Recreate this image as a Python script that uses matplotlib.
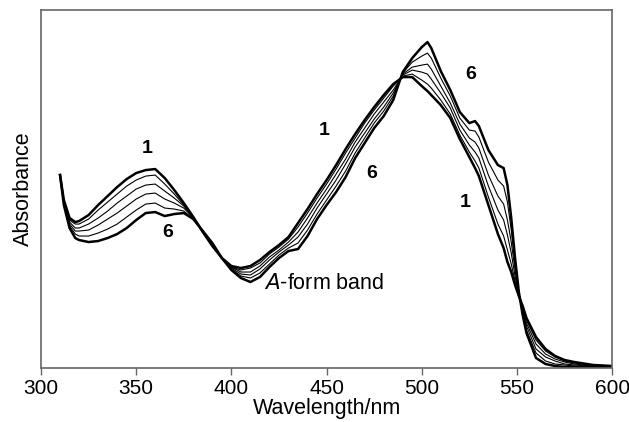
import matplotlib
matplotlib.use("Agg")
import matplotlib.pyplot as plt

plt.rcParams['font.family'] = ['Liberation Sans', 'DejaVu Sans']

wavelength = [310, 312, 315, 318, 320, 325, 330, 335, 340, 345, 350, 355, 360, 365, 370,
              375, 380, 385, 390, 395, 400, 405, 410, 415, 420, 425, 430, 435, 440, 445,
              450, 455, 460, 465, 470, 475, 480, 485, 490, 495, 500, 503, 505, 510, 515,
              520, 525, 528, 530, 535, 540, 543, 545, 547, 549, 551, 553, 555, 560, 565,
              570, 575, 580, 590, 600]

curve1 = [193, 168, 150, 146, 147, 153, 163, 172, 181, 189, 195, 198, 199, 190, 178,
          165, 151, 136, 122, 110, 102, 100, 102, 108, 116, 123, 131, 145, 159, 174,
          188, 203, 219, 234, 248, 261, 273, 284, 291, 291, 282, 277, 273, 263, 250,
          229, 211, 200, 192, 163, 134, 120, 106, 96, 83, 72, 62, 50, 31, 19,
          12, 8, 6, 3, 2]
curve2 = [193, 167, 148, 144, 144, 149, 158, 166, 174, 182, 188, 192, 193, 184, 174,
          163, 151, 136, 122, 110, 101, 98, 100, 105, 114, 121, 129, 141, 155, 170,
          184, 199, 215, 230, 245, 258, 270, 282, 292, 294, 288, 284, 280, 268, 254,
          233, 216, 207, 200, 171, 144, 132, 118, 104, 87, 73, 61, 48, 28, 17,
          11, 7, 5, 3, 2]
curve3 = [193, 166, 146, 140, 140, 144, 150, 157, 165, 172, 179, 183, 184, 177, 170,
          162, 150, 136, 123, 110, 101, 96, 96, 102, 111, 118, 126, 136, 150, 165,
          179, 194, 209, 226, 240, 254, 266, 278, 293, 298, 296, 294, 289, 275, 260,
          238, 223, 216, 210, 182, 158, 148, 133, 115, 92, 73, 59, 45, 24, 14,
          9, 6, 4, 2, 2]
curve4 = [193, 165, 144, 137, 137, 138, 143, 149, 155, 162, 169, 174, 175, 169, 165,
          160, 150, 137, 124, 110, 100, 94, 93, 99, 108, 116, 123, 131, 144, 160,
          174, 188, 204, 221, 235, 249, 261, 275, 294, 301, 303, 304, 299, 282, 265,
          244, 230, 226, 220, 193, 172, 164, 148, 126, 98, 74, 57, 42, 19, 11,
          7, 4, 3, 2, 1]
curve5 = [193, 164, 142, 134, 132, 132, 135, 139, 144, 151, 158, 164, 165, 160, 159,
          157, 149, 137, 124, 110, 99, 92, 90, 95, 104, 113, 120, 125, 138, 154,
          168, 182, 197, 215, 230, 245, 257, 272, 295, 306, 312, 315, 310, 290, 272,
          250, 238, 237, 231, 206, 188, 182, 166, 138, 104, 75, 55, 38, 15, 7,
          4, 3, 2, 1, 1]
curve6 = [193, 163, 140, 130, 128, 126, 127, 130, 134, 140, 148, 155, 156, 152, 154,
          155, 149, 137, 125, 110, 98, 90, 86, 91, 101, 110, 117, 119, 132, 149,
          163, 176, 191, 210, 225, 240, 252, 268, 296, 310, 321, 326, 320, 297, 278,
          256, 245, 247, 242, 218, 203, 200, 183, 150, 110, 76, 53, 35, 10, 4,
          2, 1, 1, 1, 1]

x_ticks = [300, 350, 400, 450, 500, 550, 600]

fig = plt.figure(figsize=(6.29, 4.22), dpi=100)
ax = fig.add_axes([0.0652, 0.128, 0.908, 0.848])

thin = [curve2, curve3, curve4, curve5]
for c in thin:
    ax.plot(wavelength, c, color='black', lw=0.8)
for c in [curve1, curve6]:
    ax.plot(wavelength, c, color='black', lw=1.8)

ax.set_xlim(300, 600)
ax.set_ylim(0, 358)
ax.set_xticks(x_ticks)
ax.set_yticks([])
ax.tick_params(axis='x', direction='out', length=5, width=1, color='#666666',
               labelsize=15, pad=3)
for s in ax.spines.values():
    s.set_color('#666666')
    s.set_linewidth(1.2)

ax.set_xlabel('Wavelength/nm', fontsize=15.5, labelpad=0)
ax.set_ylabel('Absorbance', fontsize=15.5, labelpad=5)

lab = dict(fontsize=14, fontweight='bold', ha='center', va='center')
ax.text(355.8, 220, '1', **lab)
ax.text(366.3, 136, '6', **lab)
ax.text(448.7, 238, '1', **lab)
ax.text(473.7, 195, '6', **lab)
ax.text(525.9, 294, '6', **lab)
ax.text(522.8, 166, '1', **lab)
ax.text(416.9, 85, r'$\mathit{A}$-form band', fontsize=15.5, ha='left', va='center')

fig.savefig('out.png', dpi=100)
